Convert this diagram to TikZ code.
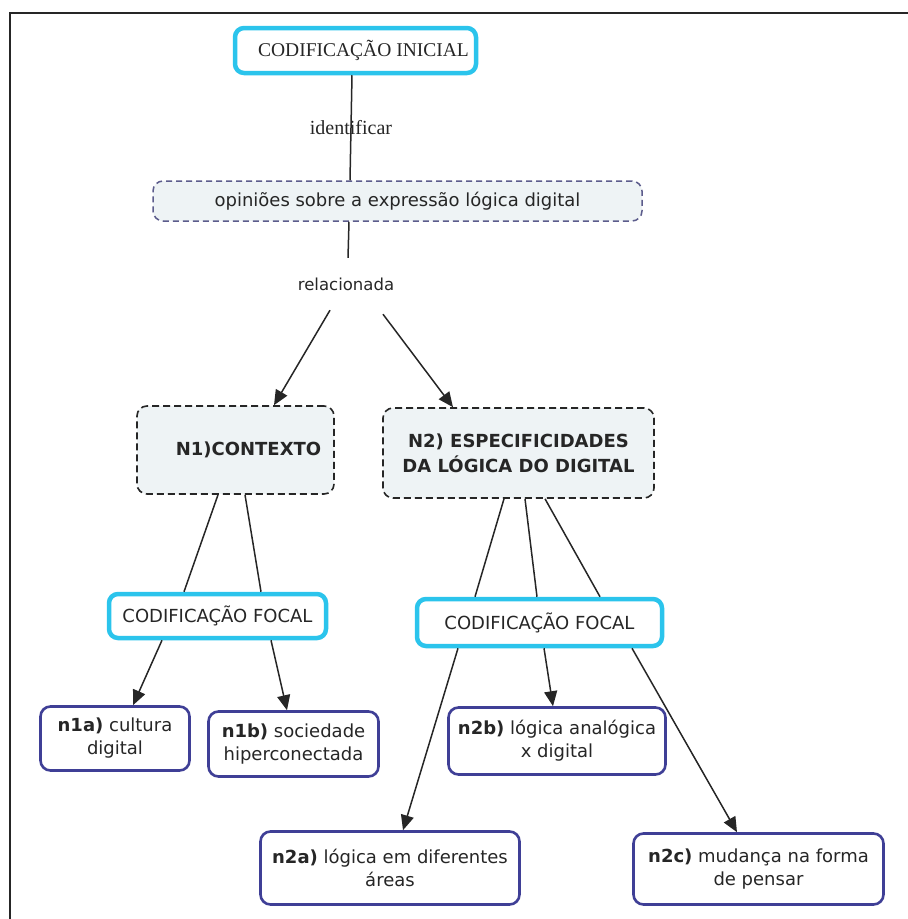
\documentclass[tikz,border=0pt]{standalone}
\usepackage{fontspec}
\setmainfont{Liberation Serif}
\newfontfamily\vsans{DejaVu Sans}
\usetikzlibrary{arrows.meta}
\definecolor{cyanline}{HTML}{2BC4EC}
\definecolor{indigoline}{HTML}{3F3F96}
\definecolor{dashblue}{HTML}{5C5C8C}
\definecolor{paleblue}{HTML}{EEF3F5}
\definecolor{ink}{HTML}{262626}

\begin{document}
\begin{tikzpicture}[x=1pt,y=-1pt,
  every node/.style={text=ink, align=center, inner sep=0pt},
  codbox/.style={draw=cyanline, line width=4.5pt, rounded corners=9pt, fill=white},
  leafbox/.style={draw=indigoline, line width=2.6pt, rounded corners=10pt, fill=white,
    font=\vsans\fontsize{18}{23}\selectfont},
  levelbox/.style={draw=ink, dash pattern=on 7pt off 4pt, line width=1.6pt,
    rounded corners=10pt, fill=paleblue, font=\vsans\bfseries\fontsize{18}{25}\selectfont},
  link/.style={draw=ink, line width=1.5pt},
  arrowlink/.style={link, -{Triangle[length=15pt,width=13pt]}},
]
\useasboundingbox (0,0) rectangle (908,919);

% page frame (top and left edges)
\draw[ink, line width=2pt] (10,919) -- (10,12.5) -- (908,12.5);

% top of the map
\node[codbox, minimum width=241pt, minimum height=45pt, font=\fontsize{19.5}{23}\selectfont]
  (init) at (355.5,50.5) {\hspace*{16pt}CODIFICAÇÃO INICIAL};
\node[draw=dashblue, dash pattern=on 6pt off 4pt, line width=1.5pt, rounded corners=10pt,
  fill=paleblue, minimum width=489pt, minimum height=40pt, font=\vsans\fontsize{18}{22}\selectfont]
  (opin) at (397.5,201) {opiniões sobre a expressão lógica digital};
\node[font=\vsans\fontsize{16.5}{20}\selectfont, minimum height=52pt] (rel) at (346,284) {relacionada};

% level nodes
\node[levelbox, minimum width=197pt, minimum height=88pt] (n1) at (235.5,450)
  {\hspace*{26pt}N1)CONTEXTO};
\node[levelbox, minimum width=271pt, minimum height=90pt] (n2) at (518.5,453)
  {N2) ESPECIFICIDADES\\DA LÓGICA DO DIGITAL};

% focal coding nodes
\node[codbox, minimum width=217pt, minimum height=44pt, font=\vsans\fontsize{18}{22}\selectfont]
  (f1) at (217.5,616) {CODIFICAÇÃO FOCAL};
\node[codbox, minimum width=245pt, minimum height=47pt, font=\vsans\fontsize{18}{22}\selectfont]
  (f2) at (539.5,622.5) {CODIFICAÇÃO FOCAL};

% leaf categories
\node[leafbox, minimum width=149pt, minimum height=64pt] (n1a) at (115,738.5)
  {\textbf{n1a)} cultura\\digital};
\node[leafbox, minimum width=170pt, minimum height=65pt] (n1b) at (293.5,744)
  {\textbf{n1b)} sociedade\\hiperconectada};
\node[leafbox, minimum width=217pt, minimum height=67pt] (n2b) at (557,741)
  {\textbf{n2b)} lógica analógica\\x digital};
\node[leafbox, minimum width=259pt, minimum height=73pt] (n2a) at (390,868)
  {\textbf{n2a)} lógica em diferentes\\áreas};
\node[leafbox, minimum width=250pt, minimum height=71pt] (n2c) at (758.5,869)
  {\textbf{n2c)} mudança na forma\\de pensar};

% connectors
\draw[link] ([xshift=-3.5pt]init.south) --
  node[font=\fontsize{20}{24}\selectfont] {identificar} ([xshift=-47.5pt]opin.north);
\draw[link] ([xshift=-48.5pt]opin.south) -- ([xshift=2pt]rel.north);
\draw[arrowlink] ([xshift=-16pt]rel.south) -- ([xshift=38.5pt]n1.north);
\draw[arrowlink] ([xshift=37pt,yshift=-4pt]rel.south) -- ([xshift=-65.5pt]n2.north);

\draw[link] ([xshift=-17.5pt]n1.south) -- ([xshift=-33.5pt]f1.north);
\draw[link] ([xshift=9.5pt]n1.south) -- ([xshift=43.5pt]f1.north);
\draw[link] ([xshift=-14.5pt]n2.south) -- ([xshift=-64.5pt]f2.north);
\draw[link] ([xshift=6.5pt]n2.south) -- ([xshift=-2.5pt]f2.north);
\draw[link] ([xshift=26.5pt]n2.south) -- ([xshift=60.5pt]f2.north);

\draw[arrowlink] ([xshift=-55.5pt]f1.south) -- ([xshift=18pt]n1a.north);
\draw[arrowlink] ([xshift=53.5pt]f1.south) -- ([xshift=-6.5pt]n1b.north);
\draw[arrowlink] ([xshift=-81.5pt]f2.south) -- ([xshift=13pt]n2a.north);
\draw[arrowlink] ([xshift=4.5pt]f2.south) -- ([xshift=-4pt]n2b.north);
\draw[arrowlink] ([xshift=92.5pt]f2.south) -- ([xshift=-21.5pt]n2c.north);
\end{tikzpicture}
\end{document}
